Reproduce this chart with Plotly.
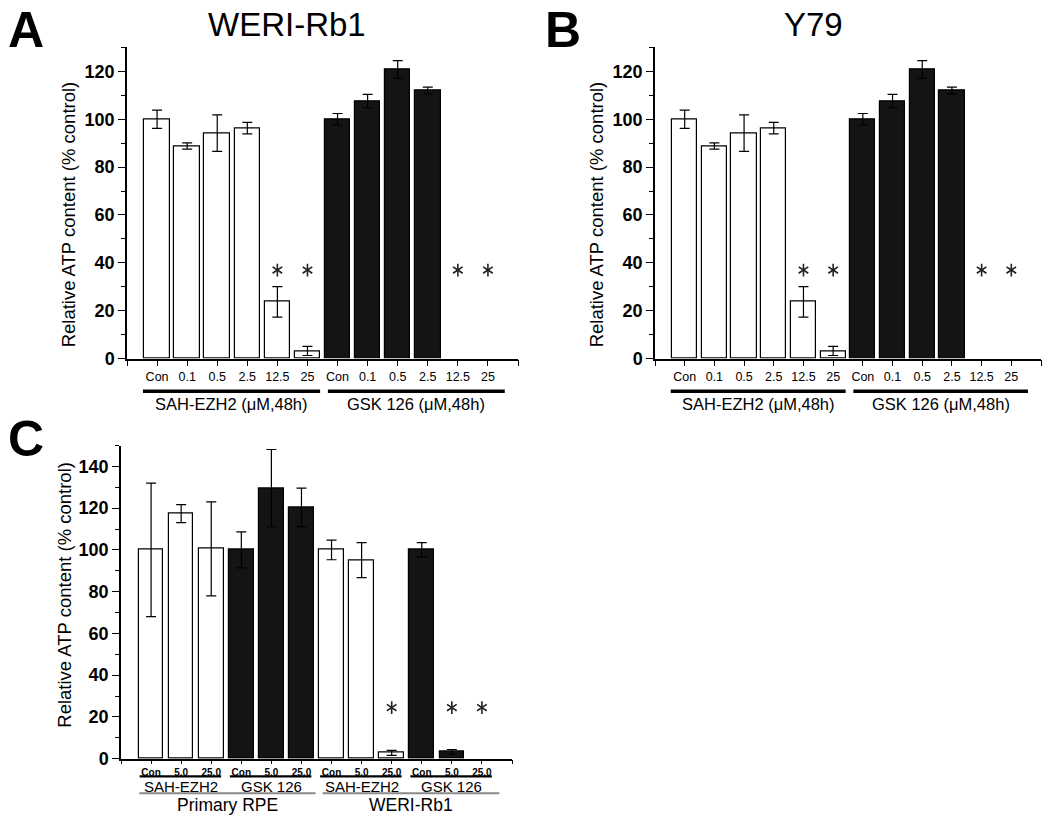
import plotly.graph_objects as go

# ---------------- data ----------------
ab_labels = ["Con", "0.1", "0.5", "2.5", "12.5", "25",
             "Con", "0.1", "0.5", "2.5", "12.5", "25"]
weri_values = [100, 88.8, 94.2, 96.3, 23.7, 3.2, 100, 107.6, 120.8, 112.0, 0, 0]
weri_errors = [3.8, 1.3, 7.6, 2.4, 6.4, 1.9, 2.4, 2.8, 3.7, 1.4, 0, 0]
y79_values = [100, 88.8, 94.2, 96.3, 23.7, 3.2, 100, 107.6, 120.8, 112.0, 0, 0]
y79_errors = [3.8, 1.3, 7.6, 2.4, 6.4, 1.9, 2.4, 2.8, 3.7, 1.4, 0, 0]
ab_fill = ["white", "white", "white", "white", "white", "white",
           "black", "black", "black", "black", "black", "black"]
ab_star_x = [4, 5, 10, 11]
ab_star_y = [37, 37, 37, 37]
ab_groups = ["SAH-EZH2 (\u03bcM,48h)", "GSK 126 (\u03bcM,48h)"]

c_labels = ["Con", "5.0", "25.0", "Con", "5.0", "25.0",
            "Con", "5.0", "25.0", "Con", "5.0", "25.0"]
c_values = [100, 117.4, 100.5, 100, 129.6, 120.4, 100, 95.1, 2.8, 100, 3.3, 0]
c_errors = [32, 4.3, 22.5, 8.6, 18.5, 9.2, 4.7, 8.4, 1.2, 3.5, 1.1, 0]
c_fill = ["white", "white", "white", "black", "black", "black",
          "white", "white", "white", "black", "black", "black"]
c_star_x = [8, 10, 11]
c_star_y = [24.5, 24.5, 24.5]
c_drugs = ["SAH-EZH2", "GSK 126", "SAH-EZH2", "GSK 126"]
c_cells = ["Primary RPE", "WERI-Rb1"]

FONT = "Liberation Sans, Arial, sans-serif"
BLACK = "#141414"

W, H = 1050, 825


def px(x):
    return x / W


def py(y):
    return 1 - y / H


fig = go.Figure()


def add_panel(values, errors, fill, star_x, star_y, xa, ya, width):
    # bars with value 0 are not drawn (nothing visible in the original)
    fig.add_trace(go.Bar(
        x=list(range(len(values))), y=[v if v > 0 else None for v in values],
        marker=dict(color=[BLACK if f == "black" else "white" for f in fill],
                    line=dict(color="black", width=1.2)),
        width=width,
        error_y=dict(type="data", array=errors,
                     color="black", thickness=1.2, width=5),
        xaxis=xa, yaxis=ya, showlegend=False, hoverinfo="skip"))
    # six-armed asterisk = "y-up" + "y-down"
    for sym in ["y-up-open", "y-down-open"]:
        fig.add_trace(go.Scatter(
            x=star_x, y=star_y, mode="markers",
            marker=dict(symbol=sym, size=8, color="#222",
                        line=dict(color="#222", width=1.6)),
            xaxis=xa, yaxis=ya, showlegend=False, hoverinfo="skip"))


add_panel(weri_values, weri_errors, ab_fill, ab_star_x, ab_star_y, "x", "y", 0.85)
add_panel(y79_values, y79_errors, ab_fill, ab_star_x, ab_star_y, "x2", "y2", 0.85)
add_panel(c_values, c_errors, c_fill, c_star_x, c_star_y, "x3", "y3", 0.82)


def xaxis(domain, labels, anchor, size, weight="normal", ticklen=6):
    return dict(domain=domain, range=[-1, 12], anchor=anchor,
                tickmode="array", tickvals=list(range(-1, 13)),
                ticktext=[""] + labels + [""],
                ticks="outside", ticklen=ticklen, tickwidth=1.3, tickcolor="black",
                showline=True, linecolor="black", linewidth=1.5,
                showgrid=False, zeroline=False,
                tickfont=dict(family=FONT, size=size, color="black", weight=weight))


def yaxis(domain, rng, anchor, size):
    return dict(domain=domain, range=rng, anchor=anchor,
                dtick=20, tick0=0,
                ticks="outside", ticklen=7, tickwidth=1.3, tickcolor="black",
                minor=dict(dtick=10, ticks="outside", ticklen=4, tickwidth=1.2,
                           tickcolor="black", showgrid=False),
                showline=True, linecolor="black", linewidth=1.5,
                showgrid=False, zeroline=False,
                tickfont=dict(family=FONT, size=size, color="black", weight="bold"))


fig.update_layout(
    width=W, height=H,
    margin=dict(l=0, r=0, t=0, b=0),
    paper_bgcolor="white", plot_bgcolor="white",
    bargap=0,
    xaxis=xaxis([px(127), px(518)], ab_labels, "y", 12.5),
    yaxis=yaxis([py(363), py(48)], [0, 130], "x", 18),
    xaxis2=xaxis([px(655), px(1041)], ab_labels, "y2", 12.5),
    yaxis2=yaxis([py(363), py(48)], [0, 130], "x2", 18),
    xaxis3=xaxis([px(121), px(512)], c_labels, "y3", 10, "bold", 4),
    yaxis3=yaxis([py(768), py(451)], [0, 150], "x3", 18),
)

ann = []
shapes = []

# panel letters and titles
for letter, lx, ly in [("A", 6, 0), ("B", 543, 0), ("C", 6, 414)]:
    ann.append(dict(text=letter, x=px(lx), y=py(ly), xref="paper", yref="paper",
                    xanchor="left", yanchor="top", showarrow=False,
                    font=dict(family=FONT, size=50, color="black", weight="bold")))
for title, cx in [("WERI-Rb1", 287), ("Y79", 813)]:
    ann.append(dict(text=title, x=px(cx), y=py(25), xref="paper", yref="paper",
                    xanchor="center", yanchor="middle", showarrow=False,
                    font=dict(family=FONT, size=33, color="black")))

# y axis titles
for cx, cy in [(68, 217), (596, 217), (65, 602)]:
    ann.append(dict(text="Relative ATP content (% control)", x=px(cx), y=py(cy),
                    xref="paper", yref="paper", textangle=-90,
                    xanchor="center", yanchor="middle", showarrow=False,
                    font=dict(family=FONT, size=18.5, color="black")))

# group bars and labels for panels A, B
for xr in ["x", "x2"]:
    for (x0, x1), label in zip([(-0.47, 5.42), (5.68, 11.56)], ab_groups):
        shapes.append(dict(type="line", xref=xr, yref="paper", x0=x0, x1=x1,
                           y0=py(396), y1=py(396), line=dict(color="black", width=3.5)))
        ann.append(dict(text=label, x=(x0 + x1) / 2, y=py(409), xref=xr, yref="paper",
                        xanchor="center", yanchor="middle", showarrow=False,
                        font=dict(family=FONT, size=16.5, color="black")))

# panel C group lines and labels
for g, label in enumerate(c_drugs):
    x0, x1 = 3 * g - 0.38, 3 * g + 2.33
    shapes.append(dict(type="line", xref="x3", yref="paper", x0=x0, x1=x1,
                       y0=py(786), y1=py(786), line=dict(color="black", width=2.2)))
    ann.append(dict(text=label, x=3 * g + 1, y=py(796), xref="x3", yref="paper",
                    xanchor="center", yanchor="middle", showarrow=False,
                    font=dict(family=FONT, size=15, color="black")))
for (x0, x1), label in zip([(-0.39, 5.47), (5.7, 11.58)], c_cells):
    shapes.append(dict(type="line", xref="x3", yref="paper", x0=x0, x1=x1,
                       y0=py(803), y1=py(803), line=dict(color="#8a8a8a", width=1.8)))
    ann.append(dict(text=label, x=(x0 + x1) / 2, y=py(815), xref="x3", yref="paper",
                    xanchor="center", yanchor="middle", showarrow=False,
                    font=dict(family=FONT, size=17.5, color="black")))

fig.update_layout(annotations=ann, shapes=shapes)

fig.write_html("out.html", config={"displayModeBar": False},
               post_script="document.body.style.margin='0px';")
